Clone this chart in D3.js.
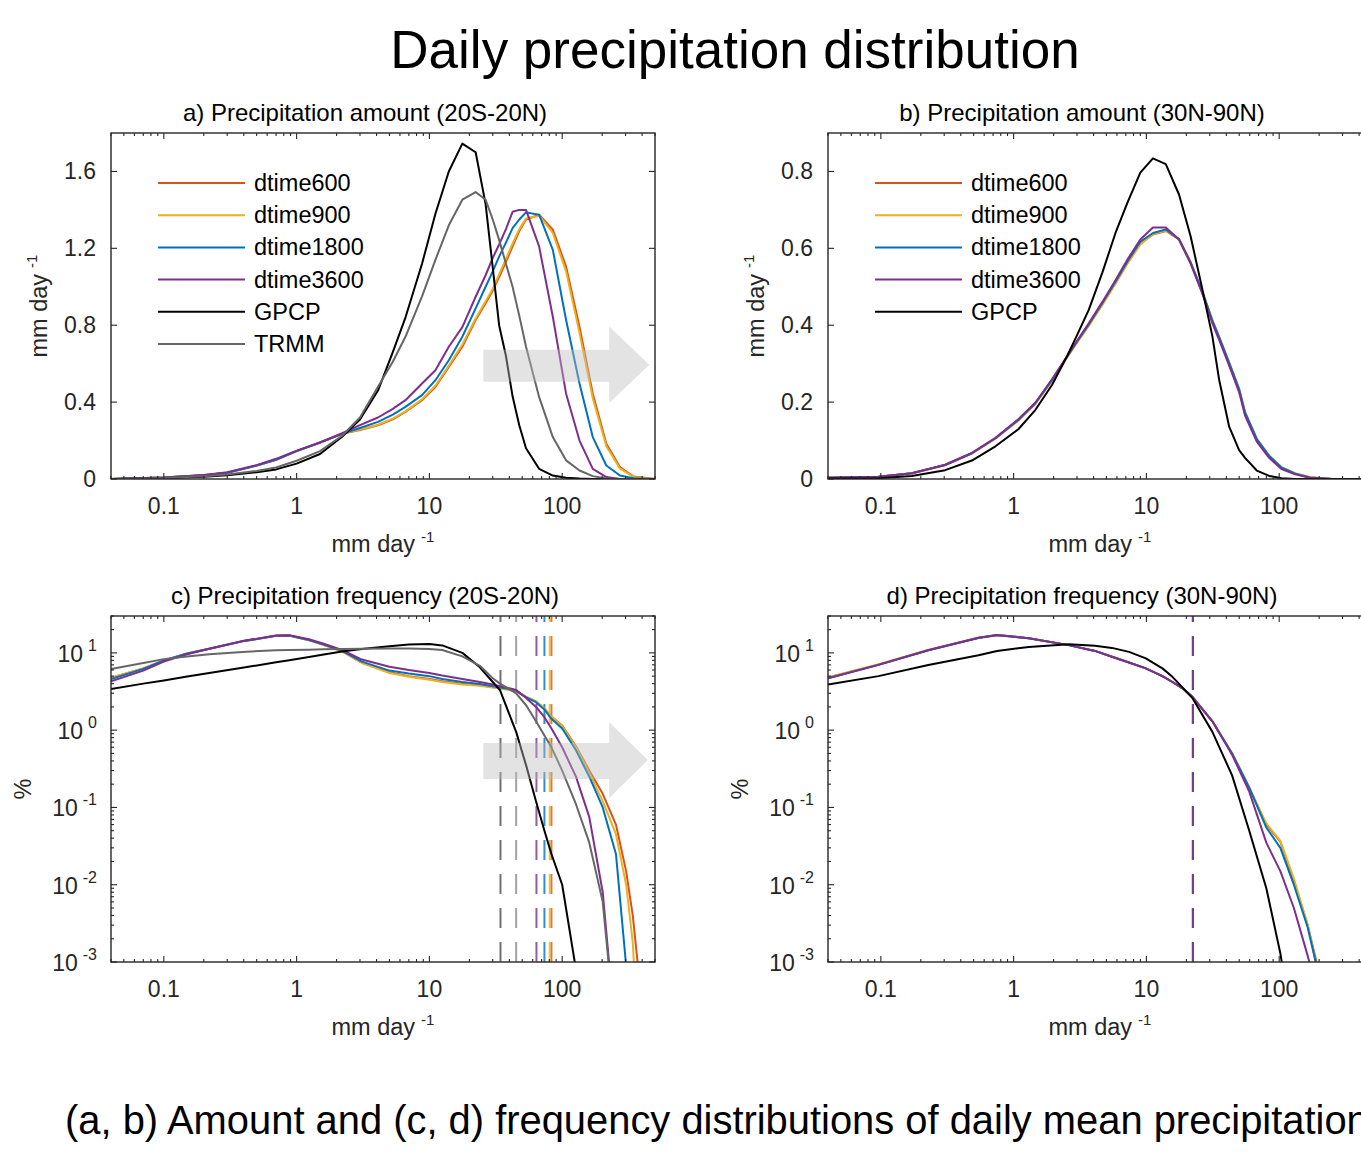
<!DOCTYPE html>
<html><head><meta charset="utf-8">
<script src="https://cdn.jsdelivr.net/npm/d3@7"></script>
<style>
body{margin:0;background:#fff}
svg{display:block}
text{font-family:"Liberation Sans",Arial,Helvetica,sans-serif;fill:#000}
</style></head>
<body><svg id="chart" width="1361" height="1153"></svg>
<script>
// ---------------- DATA ----------------
const seriesNames = ["dtime600","dtime900","dtime1800","dtime3600","GPCP","TRMM"];
const seriesColors = ["#D95319","#EDB120","#0072BD","#7E2F8E","#000000","#666666"];
const xTickValues = [0.1, 1, 10, 100];
const xTickLabels = ["0.1", "1", "10", "100"];
const yTicksA = [0, 0.4, 0.8, 1.2, 1.6];
const yTickLabelsA = ["0", "0.4", "0.8", "1.2", "1.6"];
const yTicksB = [0, 0.2, 0.4, 0.6, 0.8];
const yTickLabelsB = ["0", "0.2", "0.4", "0.6", "0.8"];
const yTicksLog = [0.001, 0.01, 0.1, 1, 10];
const yTickExpLog = ["-3", "-2", "-1", "0", "1"];

// Panel a: precipitation amount 20S-20N
const xA = [0.04,0.1,0.2,0.3,0.5,0.7,1,1.5,2.2,3,4.1,5.3,6.6,8.8,11.1,14,17.7,22.3,26.5,30,33.5,37.7,42.3,47.5,53.4,67,85,107,135,170,215,272,345,500];
const amtA_600  = [0,0.008,0.02,0.032,0.07,0.10,0.145,0.19,0.235,0.255,0.279,0.31,0.349,0.41,0.479,0.583,0.688,0.827,0.914,0.98,1.05,1.13,1.21,1.29,1.35,1.375,1.297,1.105,0.792,0.444,0.183,0.062,0.013,0];
const amtA_900  = [0,0.008,0.02,0.032,0.07,0.10,0.145,0.19,0.235,0.257,0.282,0.314,0.352,0.415,0.485,0.59,0.70,0.835,0.925,0.99,1.065,1.145,1.225,1.30,1.355,1.37,1.28,1.08,0.76,0.42,0.17,0.055,0.01,0];
const amtA_1800 = [0,0.008,0.02,0.033,0.07,0.10,0.145,0.19,0.235,0.265,0.297,0.335,0.375,0.436,0.514,0.618,0.74,0.888,1.0,1.08,1.157,1.23,1.305,1.35,1.387,1.375,1.192,0.827,0.497,0.218,0.07,0.018,0.004,0];
const amtA_3600 = [0,0.008,0.021,0.035,0.072,0.105,0.147,0.19,0.238,0.28,0.32,0.365,0.41,0.497,0.566,0.688,0.79,0.948,1.06,1.15,1.22,1.30,1.39,1.40,1.40,1.21,0.844,0.444,0.2,0.053,0.01,0,0,0];
const amtA_gpcp = [0,0.004,0.012,0.02,0.035,0.05,0.08,0.13,0.22,0.31,0.46,0.66,0.84,1.12,1.38,1.60,1.745,1.70,1.43,1.10,0.80,0.64,0.43,0.28,0.16,0.053,0.018,0.006,0.002,0,0,0,0,0];
const amtA_trmm = [0,0.005,0.014,0.024,0.042,0.06,0.095,0.145,0.225,0.32,0.48,0.61,0.74,0.95,1.14,1.32,1.453,1.493,1.453,1.35,1.244,1.12,1.0,0.85,0.688,0.427,0.218,0.097,0.044,0.015,0.003,0,0,0];

// Panel b: precipitation amount 30N-90N
const xB = [0.04,0.096,0.171,0.305,0.485,0.73,1.09,1.46,1.95,2.53,2.92,3.68,4.65,5.85,7.2,9,11.2,14,17.6,21.5,26.4,31.4,35.3,42,49.9,55.3,67.8,84,104,132,170,250,500];
const amtB_600  = [0.003,0.006,0.0148,0.0365,0.067,0.106,0.154,0.197,0.258,0.318,0.35,0.40,0.455,0.51,0.562,0.612,0.636,0.645,0.623,0.562,0.484,0.41,0.367,0.30,0.232,0.171,0.102,0.059,0.029,0.014,0.004,0,0];
const amtB_900  = [0.003,0.006,0.0145,0.036,0.066,0.105,0.152,0.195,0.255,0.316,0.348,0.398,0.452,0.508,0.56,0.61,0.637,0.646,0.624,0.565,0.488,0.414,0.371,0.304,0.236,0.175,0.105,0.061,0.031,0.015,0.005,0,0];
const amtB_1800 = [0.003,0.006,0.0148,0.0365,0.067,0.106,0.154,0.197,0.258,0.318,0.351,0.402,0.457,0.513,0.566,0.617,0.64,0.649,0.624,0.564,0.487,0.412,0.369,0.302,0.234,0.173,0.104,0.06,0.03,0.014,0.004,0,0];
const amtB_3600 = [0.003,0.006,0.015,0.037,0.068,0.107,0.156,0.199,0.26,0.32,0.353,0.405,0.46,0.517,0.571,0.623,0.654,0.654,0.623,0.561,0.482,0.405,0.362,0.295,0.226,0.165,0.097,0.055,0.026,0.012,0.003,0,0];
const amtB_gpcp = [0.001,0.002,0.008,0.023,0.048,0.085,0.13,0.18,0.245,0.32,0.365,0.44,0.536,0.64,0.719,0.797,0.834,0.819,0.74,0.632,0.493,0.371,0.258,0.136,0.075,0.055,0.022,0.008,0.002,0,0,0,0];

// Panel c: precipitation frequency 20S-20N (%)
const xC = [0.04,0.07,0.1,0.15,0.22,0.39,0.7,0.88,1.24,1.6,2.2,3.1,5,7,10,12.5,17.7,24,30,34,40,45,53.5,63.5,73.5,83,100,127,160,202,254,303,340,372,500];
const frqC_600  = [4.75,6.3,8.0,9.8,11.3,14.1,16.6,16.8,14.6,12.7,10.5,7.5,5.6,5.0,4.6,4.3,4.0,3.8,3.6,3.5,3.35,3.2,2.7,2.35,1.9,1.5,1.15,0.62,0.3,0.15,0.06,0.015,0.004,0.0009,null];
const frqC_900  = [4.75,6.3,8.0,9.8,11.3,14.1,16.6,16.8,14.6,12.6,10.4,7.4,5.5,4.9,4.5,4.2,3.9,3.75,3.55,3.45,3.3,3.15,2.7,2.35,1.9,1.5,1.12,0.6,0.28,0.12,0.045,0.01,0.0018,0.0001,null];
const frqC_1800 = [4.6,6.2,8.0,9.8,11.3,14.1,16.6,16.8,14.7,12.8,10.6,7.7,5.9,5.4,5.0,4.6,4.2,3.95,3.7,3.55,3.4,3.25,2.65,2.3,1.85,1.4,1.05,0.55,0.25,0.1,0.025,0.0009,null,null,null];
const frqC_3600 = [4.3,5.9,7.7,9.6,11.3,14.2,16.8,16.9,15.0,13.1,10.9,8.2,6.6,6.0,5.5,5.1,4.6,4.2,3.9,3.7,3.5,3.3,2.6,2.0,1.47,1.05,0.6,0.25,0.075,0.008,0.0001,null,null,null,null];
const frqC_gpcp = [3.4,4.0,4.4,4.93,5.5,6.4,7.55,8.05,8.86,9.5,10.4,11.2,12.2,12.8,13.0,12.5,10.0,6.5,4.2,3.3,1.6,0.95,0.35,0.12,0.05,0.025,0.01,0.0008,null,null,null,null,null,null,null];
const frqC_trmm = [6.2,7.4,8.3,9.0,9.6,10.3,10.8,10.9,11.0,11.1,11.2,11.3,11.4,11.4,11.2,10.9,9.0,6.8,4.7,4.0,3.4,3.0,2.1,1.3,0.85,0.6,0.3,0.11,0.035,0.006,0.0001,null,null,null,null];
// vertical dashed markers (mm/day), order: 600, 900, 1800, 3600, GPCP, TRMM
const markC = [83, 80.5, 73.5, 64, 34.3, 45];

// Panel d: precipitation frequency 30N-90N (%)
const xD = [0.04,0.096,0.228,0.544,0.75,1.3,2.6,4.1,5.5,7.4,9.9,13.2,15.7,18.6,22.2,31.4,44.2,59.5,80,102,129,164,194,250];
const frqD_600  = [4.8,7.1,10.9,15.7,17.0,15.5,12.6,10.6,8.9,7.5,6.3,5.0,4.2,3.5,2.7,1.3,0.5,0.18,0.06,0.036,0.011,0.003,0.0009,null];
const frqD_900  = [4.8,7.1,10.9,15.7,17.0,15.5,12.6,10.6,8.9,7.5,6.3,5.0,4.2,3.5,2.7,1.3,0.5,0.18,0.062,0.037,0.012,0.003,0.0008,null];
const frqD_1800 = [4.7,7.0,10.8,15.6,16.9,15.5,12.6,10.6,8.9,7.5,6.3,5.0,4.2,3.5,2.7,1.3,0.5,0.18,0.055,0.03,0.01,0.0028,0.0008,null];
const frqD_3600 = [4.7,7.0,10.8,15.7,17.0,15.5,12.6,10.6,8.9,7.5,6.3,5.0,4.2,3.5,2.7,1.3,0.48,0.16,0.035,0.015,0.005,0.0012,0.0004,null];
const frqD_gpcp = [3.9,5.0,6.95,9.3,10.6,11.9,12.9,12.4,11.6,10.3,8.5,6.3,4.9,3.6,2.6,0.95,0.26,0.05,0.009,0.0013,0.0001,null,null,null];
const markD = [22.4, 22.4, 22.4, 22.4];

// ---------------- DRAWING ----------------
const svg = d3.select("#chart");
const W = 544, H = 346;
const xDomain = [0.04, 500];
const frameColor = "#262626";

svg.append("text").attr("x", 735).attr("y", 68).attr("text-anchor", "middle")
  .style("font-size", "53px").text("Daily precipitation distribution");

function unitLabel(sel) {
  sel.append("tspan").text("mm day");
  sel.append("tspan").attr("dx", 6).attr("dy", -10).style("font-size", "15px").text("-1");
}

function drawPanel(p) {
  const x = d3.scaleLog().domain(xDomain).range([p.left, p.left + W]);
  const y = p.log
    ? d3.scaleLog().domain([0.001, 30]).range([p.top + H, p.top])
    : d3.scaleLinear().domain([0, p.yMax]).range([p.top + H, p.top]);
  const g = svg.append("g");
  const cid = "clip-" + p.id;
  svg.append("clipPath").attr("id", cid).append("rect")
    .attr("x", p.left).attr("y", p.top).attr("width", W).attr("height", H);
  const plot = g.append("g").attr("clip-path", `url(#${cid})`);

  if (p.marks) {
    p.marks.forEach((m, i) => {
      const idx = p.markIdx[i];
      let col = seriesColors[idx];
      if (seriesNames[idx] === "GPCP") col = "#4d4d4d";
      if (seriesNames[idx] === "TRMM") col = "#8c8c8c";
      plot.append("line")
        .attr("x1", x(m)).attr("x2", x(m))
        .attr("y1", p.top + H).attr("y2", p.top)
        .attr("stroke", col).attr("stroke-width", 2)
        .attr("stroke-opacity", 0.8)
        .attr("stroke-dasharray", "20,14");
    });
  }

  const line = d3.line()
    .defined(d => d[1] !== null && (!p.log || d[1] > 0))
    .x(d => x(d[0])).y(d => y(d[1]));
  p.series.forEach(s => {
    const pts = s.xs.map((xv, i) => [xv, s.ys[i]]);
    plot.append("path").datum(pts).attr("d", line)
      .attr("fill", "none").attr("stroke", seriesColors[s.idx])
      .attr("stroke-width", 2).attr("stroke-linejoin", "round");
  });

  if (p.arrow) {
    const a = p.arrow;
    const pts = [
      [x(a.x0), y(a.bodyLo)], [x(a.x1), y(a.bodyLo)], [x(a.x1), y(a.headLo)],
      [x(a.tip), y(a.mid)], [x(a.x1), y(a.headHi)], [x(a.x1), y(a.bodyHi)], [x(a.x0), y(a.bodyHi)]
    ];
    plot.append("polygon").attr("points", pts.map(q => q.join(",")).join(" "))
      .attr("fill", "#bdbdbd").attr("fill-opacity", 0.42);
  }

  g.append("rect").attr("x", p.left).attr("y", p.top).attr("width", W).attr("height", H)
    .attr("fill", "none").attr("stroke", frameColor).attr("stroke-width", 1.4);

  const ticksG = g.append("g").attr("stroke", frameColor).attr("stroke-width", 1.1);
  const xMinor = [];
  for (let k = -2; k <= 2; k++) for (let m = 2; m <= 9; m++) {
    const v = m * Math.pow(10, k);
    if (v >= xDomain[0] && v <= xDomain[1]) xMinor.push(v);
  }
  xTickValues.forEach(v => {
    ticksG.append("line").attr("x1", x(v)).attr("x2", x(v)).attr("y1", p.top + H).attr("y2", p.top + H - 6);
    ticksG.append("line").attr("x1", x(v)).attr("x2", x(v)).attr("y1", p.top).attr("y2", p.top + 6);
  });
  xMinor.forEach(v => {
    ticksG.append("line").attr("x1", x(v)).attr("x2", x(v)).attr("y1", p.top + H).attr("y2", p.top + H - 3);
    ticksG.append("line").attr("x1", x(v)).attr("x2", x(v)).attr("y1", p.top).attr("y2", p.top + 3);
  });
  xTickValues.forEach((v, i) => {
    g.append("text").attr("x", x(v)).attr("y", p.top + H + 35).attr("text-anchor", "middle")
      .style("font-size", "23px").style("fill", frameColor).text(xTickLabels[i]);
  });

  const yMajor = p.log ? yTicksLog : p.yTicks;
  const yMinor = [];
  if (p.log) {
    for (let k = -3; k <= 1; k++) for (let m = 2; m <= 9; m++) {
      const v = m * Math.pow(10, k);
      if (v <= 30) yMinor.push(v);
    }
  }
  yMajor.forEach(v => {
    ticksG.append("line").attr("x1", p.left).attr("x2", p.left + 6).attr("y1", y(v)).attr("y2", y(v));
    ticksG.append("line").attr("x1", p.left + W).attr("x2", p.left + W - 6).attr("y1", y(v)).attr("y2", y(v));
  });
  yMinor.forEach(v => {
    ticksG.append("line").attr("x1", p.left).attr("x2", p.left + 3).attr("y1", y(v)).attr("y2", y(v));
    ticksG.append("line").attr("x1", p.left + W).attr("x2", p.left + W - 3).attr("y1", y(v)).attr("y2", y(v));
  });
  if (p.log) {
    yTicksLog.forEach((v, i) => {
      const t = g.append("text").attr("x", p.left - 14).attr("y", y(v) + 9).attr("text-anchor", "end")
        .style("font-size", "23px").style("fill", frameColor);
      t.append("tspan").text("10");
      t.append("tspan").attr("dx", 5).attr("dy", -11).style("font-size", "16px").text(yTickExpLog[i]);
    });
  } else {
    p.yTicks.forEach((v, i) => {
      g.append("text").attr("x", p.left - 15).attr("y", y(v) + 8).attr("text-anchor", "end")
        .style("font-size", "23px").style("fill", frameColor).text(p.yTickLabels[i]);
    });
  }

  const xl = g.append("text").attr("x", p.left + W / 2).attr("y", p.top + H + 73)
    .attr("text-anchor", "middle").style("font-size", "23.5px").style("fill", frameColor);
  unitLabel(xl);
  const yl = g.append("text")
    .attr("transform", `translate(${p.left - p.yLabelOff},${p.top + H / 2}) rotate(-90)`)
    .attr("text-anchor", "middle").style("font-size", "23.5px").style("fill", frameColor);
  if (p.log) yl.text("%"); else unitLabel(yl);

  g.append("text").attr("x", p.left + W / 2 - 18).attr("y", p.top - 12).attr("text-anchor", "middle")
    .style("font-size", "24px").text(p.title);

  if (p.legend) {
    p.legend.forEach((idx, i) => {
      const ly = p.top + 50 + i * 32.2;
      g.append("line").attr("x1", p.left + 47).attr("x2", p.left + 134).attr("y1", ly).attr("y2", ly)
        .attr("stroke", seriesColors[idx]).attr("stroke-width", 2);
      g.append("text").attr("x", p.left + 143).attr("y", ly + 8).style("font-size", "23.5px")
        .text(seriesNames[idx]);
    });
  }
}

drawPanel({
  id: "a", left: 111, top: 133, log: false, yMax: 1.8, yTicks: yTicksA, yTickLabels: yTickLabelsA,
  yLabelOff: 64, title: "a) Precipitation amount (20S-20N)",
  series: [
    {idx: 0, xs: xA, ys: amtA_600}, {idx: 1, xs: xA, ys: amtA_900}, {idx: 2, xs: xA, ys: amtA_1800},
    {idx: 3, xs: xA, ys: amtA_3600}, {idx: 4, xs: xA, ys: amtA_gpcp}, {idx: 5, xs: xA, ys: amtA_trmm}
  ],
  legend: [0, 1, 2, 3, 4, 5],
  arrow: {x0: 25.5, x1: 226, tip: 453, bodyLo: 0.506, bodyHi: 0.673, headLo: 0.396, headHi: 0.793, mid: 0.595}
});

drawPanel({
  id: "b", left: 828, top: 133, log: false, yMax: 0.9, yTicks: yTicksB, yTickLabels: yTickLabelsB,
  yLabelOff: 64, title: "b) Precipitation amount (30N-90N)",
  series: [
    {idx: 0, xs: xB, ys: amtB_600}, {idx: 1, xs: xB, ys: amtB_900}, {idx: 2, xs: xB, ys: amtB_1800},
    {idx: 3, xs: xB, ys: amtB_3600}, {idx: 4, xs: xB, ys: amtB_gpcp}
  ],
  legend: [0, 1, 2, 3, 4]
});

drawPanel({
  id: "c", left: 111, top: 616, log: true, yLabelOff: 80,
  title: "c) Precipitation frequency (20S-20N)",
  marks: markC, markIdx: [0, 1, 2, 3, 4, 5],
  series: [
    {idx: 0, xs: xC, ys: frqC_600}, {idx: 1, xs: xC, ys: frqC_900}, {idx: 2, xs: xC, ys: frqC_1800},
    {idx: 3, xs: xC, ys: frqC_3600}, {idx: 4, xs: xC, ys: frqC_gpcp}, {idx: 5, xs: xC, ys: frqC_trmm}
  ],
  arrow: {x0: 25.5, x1: 226, tip: 442, bodyLo: 0.233, bodyHi: 0.68, headLo: 0.132, headHi: 1.27, mid: 0.41}
});

drawPanel({
  id: "d", left: 828, top: 616, log: true, yLabelOff: 80,
  title: "d) Precipitation frequency (30N-90N)",
  marks: markD, markIdx: [0, 1, 2, 3],
  series: [
    {idx: 0, xs: xD, ys: frqD_600}, {idx: 1, xs: xD, ys: frqD_900}, {idx: 2, xs: xD, ys: frqD_1800},
    {idx: 3, xs: xD, ys: frqD_3600}, {idx: 4, xs: xD, ys: frqD_gpcp}
  ]
});

svg.append("text").attr("x", 65).attr("y", 1134).style("font-size", "39.9px")
  .text("(a, b) Amount and (c, d) frequency distributions of daily mean precipitation");
</script>
</body></html>
